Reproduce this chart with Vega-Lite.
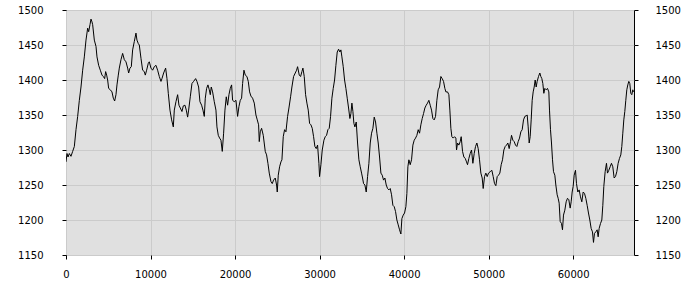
{
  "$schema": "https://vega.github.io/schema/vega-lite/v6.json",
  "autosize": "none",
  "width": 568,
  "height": 245,
  "padding": {"left": 66, "top": 10, "right": 66, "bottom": 45},
  "background": "white",
  "config": {
    "view": {"fill": "#e0e0e0", "stroke": "black", "strokeWidth": 1},
    "axis": {
      "labelFont": "DejaVu Sans",
      "labelFontSize": 10,
      "labelColor": "black",
      "tickColor": "black",
      "domain": false,
      "gridColor": "#cbcbcb",
      "gridOpacity": 1,
      "labelFlush": false,
      "labelOverlap": false,
      "title": null
    }
  },
  "data": {"values": [
    {"x":0,"y":1283},{"x":118,"y":1295},{"x":237,"y":1290},{"x":394,"y":1295},{"x":591,"y":1291},{"x":788,"y":1298},{"x":986,"y":1305},{"x":1183,"y":1329},{"x":1380,"y":1348},{"x":1577,"y":1371},{"x":1774,"y":1390},{"x":1971,"y":1414},{"x":2168,"y":1433},{"x":2365,"y":1457},{"x":2562,"y":1474},{"x":2681,"y":1469},{"x":2838,"y":1479},{"x":2957,"y":1487},{"x":3075,"y":1483},{"x":3154,"y":1479},{"x":3351,"y":1457},{"x":3548,"y":1448},{"x":3666,"y":1433},{"x":3863,"y":1421},{"x":4060,"y":1414},{"x":4257,"y":1407},{"x":4415,"y":1405},{"x":4573,"y":1402},{"x":4691,"y":1412},{"x":4809,"y":1407},{"x":4928,"y":1400},{"x":5046,"y":1388},{"x":5243,"y":1386},{"x":5440,"y":1383},{"x":5598,"y":1374},{"x":5755,"y":1370},{"x":5913,"y":1379},{"x":6031,"y":1393},{"x":6189,"y":1407},{"x":6307,"y":1417},{"x":6504,"y":1429},{"x":6701,"y":1438},{"x":6899,"y":1429},{"x":7096,"y":1426},{"x":7293,"y":1417},{"x":7411,"y":1410},{"x":7569,"y":1417},{"x":7726,"y":1419},{"x":7884,"y":1443},{"x":8081,"y":1455},{"x":8278,"y":1467},{"x":8396,"y":1457},{"x":8554,"y":1452},{"x":8672,"y":1450},{"x":8870,"y":1431},{"x":9067,"y":1414},{"x":9264,"y":1412},{"x":9382,"y":1407},{"x":9540,"y":1414},{"x":9737,"y":1424},{"x":9855,"y":1426},{"x":10052,"y":1417},{"x":10249,"y":1414},{"x":10446,"y":1419},{"x":10643,"y":1421},{"x":10841,"y":1414},{"x":11038,"y":1405},
    {"x":11236,"y":1398},{"x":11354,"y":1402},{"x":11551,"y":1410},{"x":11788,"y":1417},{"x":11946,"y":1402},{"x":12103,"y":1381},{"x":12300,"y":1357},{"x":12497,"y":1343},{"x":12695,"y":1333},{"x":12813,"y":1357},{"x":13010,"y":1369},{"x":13207,"y":1379},{"x":13365,"y":1364},{"x":13522,"y":1360},{"x":13719,"y":1355},{"x":13877,"y":1363},{"x":14074,"y":1364},{"x":14232,"y":1357},{"x":14390,"y":1347},{"x":14508,"y":1357},{"x":14705,"y":1376},{"x":14902,"y":1395},{"x":15099,"y":1398},{"x":15336,"y":1402},{"x":15493,"y":1398},{"x":15690,"y":1390},{"x":15848,"y":1369},{"x":16045,"y":1364},{"x":16203,"y":1357},{"x":16361,"y":1348},{"x":16479,"y":1374},{"x":16637,"y":1388},{"x":16794,"y":1393},{"x":16952,"y":1386},{"x":17070,"y":1379},{"x":17188,"y":1390},{"x":17346,"y":1383},{"x":17543,"y":1369},{"x":17740,"y":1357},{"x":17859,"y":1333},{"x":18016,"y":1321},{"x":18174,"y":1317},{"x":18332,"y":1314},{"x":18489,"y":1298},{"x":18647,"y":1324},{"x":18805,"y":1357},{"x":18962,"y":1376},{"x":19120,"y":1364},{"x":19278,"y":1379},{"x":19435,"y":1388},{"x":19593,"y":1393},{"x":19711,"y":1371},{"x":19908,"y":1369},{"x":20106,"y":1371},{"x":20303,"y":1348},{"x":20460,"y":1362},{"x":20618,"y":1371},{"x":20776,"y":1374},{"x":20894,"y":1395},{"x":21052,"y":1414},{"x":21209,"y":1407},{"x":21406,"y":1405},{"x":21564,"y":1398},{"x":21722,"y":1383},{"x":21879,"y":1377},{"x":22076,"y":1374},{"x":22274,"y":1367},
    {"x":22471,"y":1350},{"x":22629,"y":1343},{"x":22786,"y":1336},{"x":22865,"y":1312},{"x":22983,"y":1326},{"x":23141,"y":1331},{"x":23338,"y":1321},{"x":23575,"y":1298},{"x":23732,"y":1293},{"x":23890,"y":1281},{"x":24048,"y":1267},{"x":24245,"y":1255},{"x":24403,"y":1252},{"x":24560,"y":1257},{"x":24757,"y":1260},{"x":24915,"y":1250},{"x":24994,"y":1240},{"x":25112,"y":1264},{"x":25270,"y":1276},{"x":25428,"y":1283},{"x":25546,"y":1286},{"x":25704,"y":1319},{"x":25861,"y":1329},{"x":26019,"y":1326},{"x":26216,"y":1348},{"x":26374,"y":1360},{"x":26571,"y":1376},{"x":26728,"y":1390},{"x":26925,"y":1405},{"x":27123,"y":1410},{"x":27280,"y":1414},{"x":27399,"y":1419},{"x":27596,"y":1407},{"x":27753,"y":1405},{"x":27911,"y":1412},{"x":28029,"y":1417},{"x":28187,"y":1405},{"x":28345,"y":1379},{"x":28502,"y":1367},{"x":28660,"y":1357},{"x":28818,"y":1338},{"x":28975,"y":1336},{"x":29133,"y":1331},{"x":29291,"y":1319},{"x":29448,"y":1305},{"x":29606,"y":1302},{"x":29764,"y":1307},{"x":29921,"y":1281},{"x":30000,"y":1262},{"x":30158,"y":1279},{"x":30316,"y":1300},{"x":30513,"y":1314},{"x":30670,"y":1319},{"x":30828,"y":1321},{"x":30986,"y":1329},{"x":31143,"y":1331},{"x":31301,"y":1348},{"x":31459,"y":1374},{"x":31616,"y":1388},{"x":31774,"y":1400},{"x":31932,"y":1421},{"x":32089,"y":1440},{"x":32247,"y":1444},{"x":32405,"y":1440},{"x":32523,"y":1443},{"x":32641,"y":1433},{"x":32799,"y":1419},{"x":32957,"y":1400},{"x":33114,"y":1388},{"x":33272,"y":1374},{"x":33430,"y":1360},{"x":33588,"y":1345},
    {"x":33707,"y":1352},{"x":33825,"y":1367},{"x":33944,"y":1355},{"x":34062,"y":1338},{"x":34180,"y":1333},{"x":34338,"y":1340},{"x":34495,"y":1310},{"x":34653,"y":1286},{"x":34811,"y":1276},{"x":34968,"y":1267},{"x":35087,"y":1260},{"x":35205,"y":1252},{"x":35363,"y":1250},{"x":35520,"y":1240},{"x":35678,"y":1262},{"x":35836,"y":1281},{"x":35993,"y":1310},{"x":36151,"y":1324},{"x":36309,"y":1331},{"x":36466,"y":1347},{"x":36624,"y":1340},{"x":36782,"y":1324},{"x":36939,"y":1310},{"x":37097,"y":1290},{"x":37255,"y":1267},{"x":37412,"y":1264},{"x":37570,"y":1257},{"x":37728,"y":1260},{"x":37886,"y":1250},{"x":38043,"y":1245},{"x":38201,"y":1243},{"x":38359,"y":1245},{"x":38516,"y":1236},{"x":38674,"y":1221},{"x":38832,"y":1219},{"x":38989,"y":1212},{"x":39147,"y":1200},{"x":39305,"y":1193},{"x":39462,"y":1186},{"x":39620,"y":1180},{"x":39738,"y":1202},{"x":39896,"y":1207},{"x":40054,"y":1210},{"x":40211,"y":1219},{"x":40330,"y":1238},{"x":40448,"y":1276},{"x":40566,"y":1286},{"x":40724,"y":1279},{"x":40881,"y":1286},{"x":41039,"y":1307},{"x":41197,"y":1314},{"x":41354,"y":1317},{"x":41512,"y":1321},{"x":41670,"y":1329},{"x":41827,"y":1324},{"x":41985,"y":1336},{"x":42143,"y":1345},{"x":42301,"y":1352},{"x":42458,"y":1360},{"x":42616,"y":1364},{"x":42774,"y":1367},{"x":42931,"y":1371},{"x":43089,"y":1364},{"x":43247,"y":1357},{"x":43404,"y":1345},{"x":43562,"y":1343},{"x":43720,"y":1348},{"x":43877,"y":1371},{"x":44035,"y":1386},{"x":44193,"y":1390},{"x":44350,"y":1405},{"x":44508,"y":1402},{"x":44666,"y":1398},{"x":44823,"y":1388},
    {"x":44943,"y":1383},{"x":45140,"y":1383},{"x":45298,"y":1379},{"x":45416,"y":1357},{"x":45534,"y":1331},{"x":45653,"y":1319},{"x":45810,"y":1317},{"x":45968,"y":1319},{"x":46126,"y":1317},{"x":46204,"y":1300},{"x":46323,"y":1310},{"x":46480,"y":1307},{"x":46638,"y":1312},{"x":46756,"y":1319},{"x":46914,"y":1298},{"x":47072,"y":1290},{"x":47229,"y":1288},{"x":47387,"y":1283},{"x":47505,"y":1279},{"x":47663,"y":1288},{"x":47821,"y":1295},{"x":47978,"y":1300},{"x":48136,"y":1281},{"x":48294,"y":1295},{"x":48451,"y":1305},{"x":48609,"y":1310},{"x":48767,"y":1302},{"x":48924,"y":1286},{"x":49082,"y":1267},{"x":49240,"y":1260},{"x":49358,"y":1245},{"x":49516,"y":1262},{"x":49673,"y":1267},{"x":49831,"y":1262},{"x":49989,"y":1267},{"x":50186,"y":1269},{"x":50383,"y":1271},{"x":50541,"y":1262},{"x":50698,"y":1252},{"x":50856,"y":1249},{"x":51014,"y":1262},{"x":51171,"y":1264},{"x":51329,"y":1267},{"x":51487,"y":1279},{"x":51644,"y":1286},{"x":51802,"y":1300},{"x":51960,"y":1305},{"x":52117,"y":1307},{"x":52275,"y":1310},{"x":52433,"y":1302},{"x":52590,"y":1312},{"x":52709,"y":1321},{"x":52867,"y":1314},{"x":53024,"y":1312},{"x":53182,"y":1307},{"x":53340,"y":1305},{"x":53497,"y":1312},{"x":53655,"y":1317},{"x":53813,"y":1326},{"x":53970,"y":1329},{"x":54128,"y":1343},{"x":54286,"y":1348},{"x":54443,"y":1349},{"x":54562,"y":1350},{"x":54680,"y":1333},{"x":54798,"y":1310},{"x":54916,"y":1319},{"x":55035,"y":1343},{"x":55153,"y":1371},{"x":55271,"y":1383},{"x":55390,"y":1390},{"x":55508,"y":1400},{"x":55626,"y":1390},{"x":55744,"y":1398},{"x":55902,"y":1405},{"x":56060,"y":1410},
    {"x":56178,"y":1405},{"x":56296,"y":1402},{"x":56415,"y":1395},{"x":56533,"y":1381},{"x":56651,"y":1388},{"x":56809,"y":1386},{"x":56966,"y":1388},{"x":57124,"y":1383},{"x":57203,"y":1357},{"x":57321,"y":1329},{"x":57439,"y":1310},{"x":57558,"y":1286},{"x":57676,"y":1269},{"x":57834,"y":1264},{"x":57952,"y":1250},{"x":58110,"y":1236},{"x":58228,"y":1231},{"x":58346,"y":1224},{"x":58464,"y":1198},{"x":58622,"y":1195},{"x":58740,"y":1186},{"x":58859,"y":1207},{"x":59016,"y":1214},{"x":59174,"y":1226},{"x":59332,"y":1231},{"x":59489,"y":1229},{"x":59647,"y":1217},{"x":59765,"y":1226},{"x":59884,"y":1240},{"x":60002,"y":1248},{"x":60120,"y":1264},{"x":60278,"y":1271},{"x":60396,"y":1252},{"x":60554,"y":1240},{"x":60711,"y":1243},{"x":60869,"y":1233},{"x":61027,"y":1226},{"x":61185,"y":1240},{"x":61342,"y":1238},{"x":61500,"y":1231},{"x":61658,"y":1221},{"x":61815,"y":1210},{"x":61973,"y":1200},{"x":62131,"y":1188},{"x":62288,"y":1183},{"x":62407,"y":1168},{"x":62525,"y":1181},{"x":62683,"y":1183},{"x":62840,"y":1186},{"x":62959,"y":1176},{"x":63077,"y":1188},{"x":63235,"y":1195},{"x":63392,"y":1200},{"x":63511,"y":1221},{"x":63629,"y":1248},{"x":63787,"y":1269},{"x":63944,"y":1281},{"x":64062,"y":1267},{"x":64220,"y":1271},{"x":64378,"y":1276},{"x":64535,"y":1281},{"x":64693,"y":1276},{"x":64851,"y":1260},{"x":65008,"y":1262},{"x":65166,"y":1269},{"x":65324,"y":1281},{"x":65481,"y":1288},{"x":65639,"y":1293},{"x":65757,"y":1305},{"x":65876,"y":1324},{"x":65994,"y":1343},{"x":66112,"y":1355},{"x":66230,"y":1371},{"x":66348,"y":1386},{"x":66467,"y":1393},{"x":66585,"y":1398},{"x":66703,"y":1395},{"x":66821,"y":1381},{"x":66940,"y":1379},{"x":67058,"y":1386},{"x":67137,"y":1383}
  ]},
  "layer": [
    {
      "mark": {"type": "line", "color": "black", "strokeWidth": 1, "clip": true},
      "encoding": {
        "x": {"field": "x", "type": "quantitative",
              "scale": {"domain": [0, 67200], "nice": false, "zero": false},
              "axis": {"values": [0, 10000, 20000, 30000, 40000, 50000, 60000], "format": "d", "tickSize": 4, "labelPadding": 10, "grid": true}},
        "y": {"field": "y", "type": "quantitative",
              "scale": {"domain": [1150, 1500], "nice": false, "zero": false},
              "axis": {"orient": "left", "values": [1150, 1200, 1250, 1300, 1350, 1400, 1450, 1500], "format": "d", "tickSize": 4, "labelPadding": 19, "grid": true}}
      }
    },
    {
      "mark": {"type": "line", "strokeOpacity": 0},
      "encoding": {
        "x": {"field": "x", "type": "quantitative"},
        "y": {"field": "y", "type": "quantitative",
              "axis": {"orient": "right", "values": [1150, 1200, 1250, 1300, 1350, 1400, 1450, 1500], "format": "d", "tickSize": 4, "labelPadding": 17, "grid": false}}
      }
    }
  ],
  "resolve": {"axis": {"y": "independent"}}
}
